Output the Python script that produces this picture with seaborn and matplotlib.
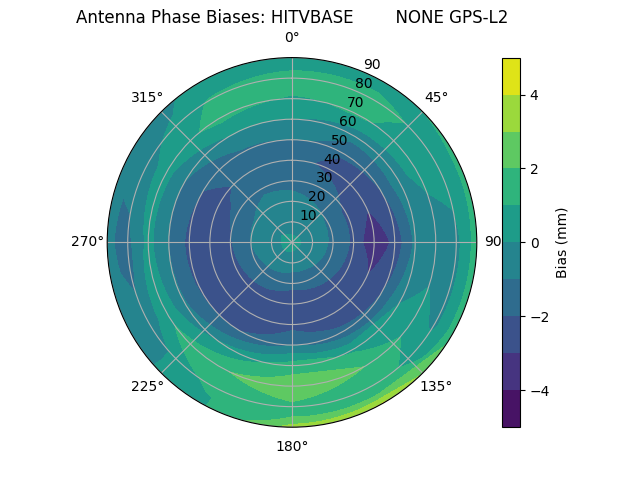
"""Polar contour map of antenna phase biases (HITVBASE NONE, GPS-L2)."""
import numpy as np
import matplotlib
matplotlib.use('Agg')
import matplotlib.pyplot as plt
import seaborn as sns

# azimuth (deg, clockwise from north) and zenith angle (deg) of the grid
azimuth = [0, 30, 60, 90, 120, 150, 180, 210, 240, 270, 300, 330]
zenith = [0, 10, 20, 30, 40, 50, 60, 70, 80, 85, 90]

# bias (mm) along zenith, one list per azimuth
bias_az000 = [0.3, -0.5, -0.8, -1.2, -1.7, -1.0, 0.0, 0.9, 1.5, 0.8, 0.7]
bias_az030 = [0.3, -0.6, -0.9, -1.5, -2.3, -1.9, -0.6, 1.1, 1.4, 0.9, 0.8]
bias_az060 = [0.3, -0.5, -1.1, -2.2, -2.7, -2.0, -0.3, 0.3, 0.5, 0.7, 1.2]
bias_az090 = [0.3, -0.4, -1.2, -2.2, -4.0, -2.7, -0.8, -0.6, -0.3, 0.5, 1.6]
bias_az120 = [0.3, -0.5, -1.3, -2.4, -2.7, -2.0, 0.0, 0.4, -0.2, 0.4, 1.7]
bias_az150 = [0.3, -0.5, -1.6, -2.5, -2.6, -1.8, 0.8, 2.0, 1.6, 2.0, 4.1]
bias_az180 = [0.3, -0.4, -1.8, -2.5, -2.4, -1.0, 1.5, 2.6, 1.8, 2.0, 3.4]
bias_az210 = [0.3, -0.3, -1.5, -2.4, -2.6, -2.0, 0.3, 1.9, 1.3, 0.9, 0.8]
bias_az240 = [0.3, -0.3, -1.3, -2.3, -2.7, -2.1, -0.9, 0.8, -0.8, -0.6, -0.5]
bias_az270 = [0.3, -0.3, -1.0, -2.1, -2.6, -2.3, -1.0, 0.3, -1.3, -1.2, -0.6]
bias_az300 = [0.3, -0.2, -0.9, -1.8, -2.3, -2.0, -1.0, 0.4, -0.4, -0.8, -0.7]
bias_az330 = [0.3, -0.4, -0.8, -1.1, -1.6, -1.2, 0.0, 1.3, 1.1, 0.6, 0.3]

antenna = 'HITVBASE        NONE'
freq = 'GPS-L2'

cols = [bias_az000, bias_az030, bias_az060, bias_az090, bias_az120, bias_az150,
        bias_az180, bias_az210, bias_az240, bias_az270, bias_az300, bias_az330]
# close the circle: 360 deg repeats the 0 deg column
Z = np.array(cols + [bias_az000]).T
az = np.radians(np.array(azimuth + [360]))
TH, R = np.meshgrid(az, np.array(zenith))

cmap = sns.color_palette('viridis', as_cmap=True)

fig = plt.figure(figsize=(6.4, 4.8), dpi=100)
ax = fig.add_subplot(projection='polar')
ax.set_theta_zero_location('N')
ax.set_theta_direction(-1)

cs = ax.contourf(TH, R, Z, levels=np.arange(-5, 6, 1), cmap=cmap)
# draw contour edges as curves in polar space rather than straight chords
for p in cs.get_paths():
    p._interpolation_steps = 40

ax.set_ylim(0, 90)
ax.set_yticks(range(10, 91, 10))
ax.grid(True)
ax.set_title(f'Antenna Phase Biases: {antenna} {freq}')

cb = fig.colorbar(cs, ax=ax)
cb.set_label('Bias (mm)')

fig.savefig('out.png', dpi=100)
